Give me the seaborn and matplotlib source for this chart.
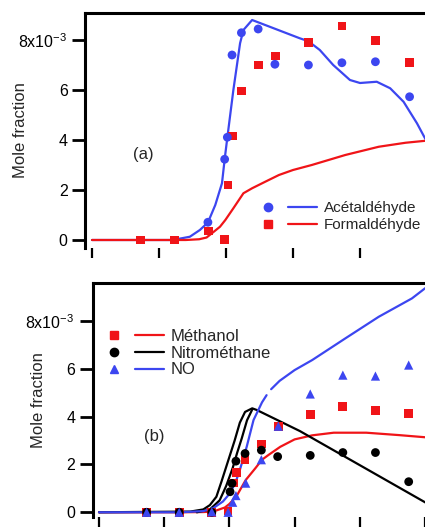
import numpy as np
import pandas as pd
import matplotlib
matplotlib.use("Agg")
import matplotlib.pyplot as plt
import seaborn as sns
from matplotlib.lines import Line2D
from matplotlib.legend_handler import HandlerTuple

# ---------------- data (mole fraction in units of 1e-3) ----------------
# Panel (a) experiments
acet_T = [673, 698, 702, 709, 723, 748, 773, 823, 873, 923, 974]
acet_y = [0.71, 3.23, 4.11, 7.40, 8.29, 8.44, 7.03, 7.00, 7.09, 7.13, 5.73]
form_T = [572, 623, 674, 698, 703, 710, 723, 748, 774, 823, 873, 923, 974]
form_y = [0.0, 0.0, 0.36, 0.03, 2.20, 4.16, 5.96, 7.00, 7.36, 7.89, 8.56, 7.97, 7.09]
# Panel (a) models
acet_mod_T = [500, 620, 646, 661, 673, 684, 694, 698, 702, 711, 721, 726, 739,
              810, 823, 840, 860, 885, 900, 925, 945, 965, 985, 997, 1010]
acet_mod_y = [0.0, 0.0, 0.13, 0.40, 0.70, 1.40, 2.27, 3.23, 4.10, 6.00, 7.87, 8.40, 8.80,
              8.07, 7.95, 7.60, 7.00, 6.40, 6.28, 6.33, 6.07, 5.53, 4.67, 4.07, 3.50]
form_mod_T = [500, 640, 660, 671, 679, 691, 699, 711, 726, 739, 760, 779, 800,
              828, 878, 928, 968, 998, 1010]
form_mod_y = [0.0, 0.0, 0.03, 0.10, 0.27, 0.53, 0.80, 1.27, 1.87, 2.07, 2.35, 2.60, 2.80,
              3.00, 3.40, 3.73, 3.89, 3.97, 4.00]

# Panel (b) experiments
meth_T = [573, 623, 673, 698, 706, 711, 724, 749, 775, 824, 874, 924, 975]
meth_y = [0.0, 0.0, 0.0, 0.05, 1.23, 1.68, 2.22, 2.86, 3.60, 4.10, 4.42, 4.25, 4.14]
nitro_T = [573, 623, 673, 701, 704, 710, 724, 749, 774, 824, 874, 924, 975]
nitro_y = [0.0, 0.0, 0.0, 0.86, 1.21, 2.14, 2.46, 2.60, 2.33, 2.38, 2.50, 2.50, 1.28]
no_T = [573, 623, 673, 698, 705, 710, 725, 749, 775, 824, 874, 924, 975]
no_y = [0.0, 0.0, 0.02, 0.0, 0.42, 0.70, 1.22, 2.20, 3.60, 4.95, 5.74, 5.70, 6.16]
# Panel (b) models
meth_mod_T = [500, 620, 660, 675, 693, 700, 711, 725, 740, 750, 760, 778, 800,
              827, 860, 910, 960, 1000, 1060]
meth_mod_y = [0.0, 0.0, 0.01, 0.03, 0.20, 0.35, 0.68, 1.35, 1.85, 2.20, 2.40, 2.74, 3.05,
              3.22, 3.33, 3.33, 3.23, 3.14, 3.00]
nitro_mod_T = [500, 640, 660, 670, 680, 688, 698, 708, 716, 724, 735, 742, 808, 1000, 1060]
nitro_mod_y = [0.0, 0.03, 0.12, 0.30, 0.65, 1.30, 2.15, 3.00, 3.75, 4.20, 4.35, 4.28, 3.40, 0.42, -0.5]
nitro_mod2_T = [650, 670, 685, 695, 705, 712, 719, 727, 735]
nitro_mod2_y = [0.0, 0.12, 0.50, 1.10, 1.85, 2.50, 3.10, 3.85, 4.30]
no_mod_T1 = [500, 624, 660, 675, 690, 701, 710, 716, 726.5, 737, 750, 757]
no_mod_y1 = [0.0, 0.0, 0.05, 0.17, 0.45, 0.80, 1.30, 1.77, 2.74, 3.86, 4.60, 4.90]
no_mod_T2 = [764, 777, 800, 827, 878, 929, 980, 1000, 1060]
no_mod_y2 = [5.15, 5.50, 5.95, 6.37, 7.28, 8.18, 8.95, 9.37, 10.3]

ytick_vals = [0, 2, 4, 6, 8]
ytick_labels = ["0", "2", "4", "6", r"8x10$^{-3}$ "]
xtick_vals = [500, 600, 700, 800, 900, 1000]

# ---------------- style ----------------
sns.set_style("white")
plt.rcParams["font.family"] = ["Liberation Sans", "DejaVu Sans"]
plt.rcParams["mathtext.default"] = "regular"
plt.rcParams["axes.unicode_minus"] = False

BLUE = "#3c46f0"
RED = "#f01418"
BLACK = "#000000"
FS_TICK = 11.5
FS = 12
FS_LEG_A = 11

W, H = 425, 527
fig = plt.figure(figsize=(W / 100, H / 100), dpi=100)


def px_axes(left, top, right, bottom):
    return fig.add_axes([left / W, 1 - bottom / H, (right - left) / W, (bottom - top) / H])


ax1 = px_axes(85, 13, 460, 247.7)
ax2 = px_axes(92.7, 282.5, 460, 517)


def style(ax, xlim, ylim):
    ax.set_xlim(*xlim)
    ax.set_ylim(*ylim)
    for s in ["right", "bottom"]:
        ax.spines[s].set_visible(False)
    for s in ["top", "left"]:
        ax.spines[s].set_linewidth(2.2)
        ax.spines[s].set_color("black")
    ax.set_yticks(ytick_vals)
    ax.set_yticklabels(ytick_labels)
    ax.set_xticks(xtick_vals)
    ax.tick_params(axis="y", direction="out", length=9.5, width=2.0, labelsize=FS_TICK,
                   pad=3, left=True, colors="black")
    ax.tick_params(axis="x", direction="out", length=7.5, width=1.6, bottom=True,
                   labelbottom=False, colors="black")
    ax.set_xlabel("")
    ax.set_ylabel("Mole fraction", fontsize=FS)
    ax.grid(False)


def line(ax, x, y, color):
    sns.lineplot(x=x, y=y, color=color, linewidth=1.6, ax=ax, sort=False,
                 estimator=None, legend=False)


def pts(ax, x, y, color, marker, s=40):
    sns.scatterplot(x=x, y=y, color=color, marker=marker, s=s, edgecolor="none",
                    linewidth=0, ax=ax, legend=False, zorder=3)


# ---------------- panel (a) ----------------
pts(ax1, form_T, form_y, RED, "s")
pts(ax1, acet_T, acet_y, BLUE, "o")
line(ax1, acet_mod_T, acet_mod_y, BLUE)
line(ax1, form_mod_T, form_mod_y, RED)
style(ax1, (489.55, 1049.25), (-0.308, 9.08))
ax1.yaxis.set_label_coords(-0.152, 0.5)
ax1.text(0.155, 0.395, "(a)", transform=ax1.transAxes, fontsize=FS,
         ha="center", va="center")

h_acet = (Line2D([], [], ls="none", marker="o", color=BLUE, ms=6),
          Line2D([], [], color=BLUE, lw=1.6))
h_form = (Line2D([], [], ls="none", marker="s", color=RED, ms=6),
          Line2D([], [], color=RED, lw=1.6))
ax1.legend([h_acet, h_form], ["Acétaldéhyde", "Formaldéhyde"],
           handler_map={tuple: HandlerTuple(ndivide=None, pad=0.42)},
           handlelength=4.22, handletextpad=0.4, frameon=False, borderpad=0,
           borderaxespad=0, loc="center left", bbox_to_anchor=(0.448, 0.132),
           fontsize=FS_LEG_A, labelspacing=0.2)

# ---------------- panel (b) ----------------
pts(ax2, meth_T, meth_y, RED, "s")
pts(ax2, nitro_T, nitro_y, BLACK, "o")
pts(ax2, no_T, no_y, BLUE, "^", s=44)
line(ax2, meth_mod_T, meth_mod_y, RED)
line(ax2, nitro_mod_T, nitro_mod_y, BLACK)
line(ax2, nitro_mod2_T, nitro_mod2_y, BLACK)
line(ax2, no_mod_T1, no_mod_y1, BLUE)
line(ax2, no_mod_T2, no_mod_y2, BLUE)
style(ax2, (490.3, 1053.7), (-0.197, 9.615))
ax2.yaxis.set_label_coords(-0.127, 0.5)
ax2.text(0.167, 0.342, "(b)", transform=ax2.transAxes, fontsize=FS,
         ha="center", va="center")

h_meth = (Line2D([], [], ls="none", marker="s", color=RED, ms=6),
          Line2D([], [], color=RED, lw=1.6))
h_nitro = (Line2D([], [], ls="none", marker="o", color=BLACK, ms=6),
           Line2D([], [], color=BLACK, lw=1.6))
h_no = (Line2D([], [], ls="none", marker="^", color=BLUE, ms=6),
        Line2D([], [], color=BLUE, lw=1.6))
ax2.legend([h_meth, h_nitro, h_no], ["Méthanol", "Nitrométhane", "NO"],
           handler_map={tuple: HandlerTuple(ndivide=None, pad=0.39)},
           handlelength=3.87, handletextpad=0.4, frameon=False, borderpad=0,
           borderaxespad=0, loc="center left", bbox_to_anchor=(0.0193, 0.698),
           fontsize=FS, labelspacing=0.1)

fig.savefig("out.png", dpi=100)
